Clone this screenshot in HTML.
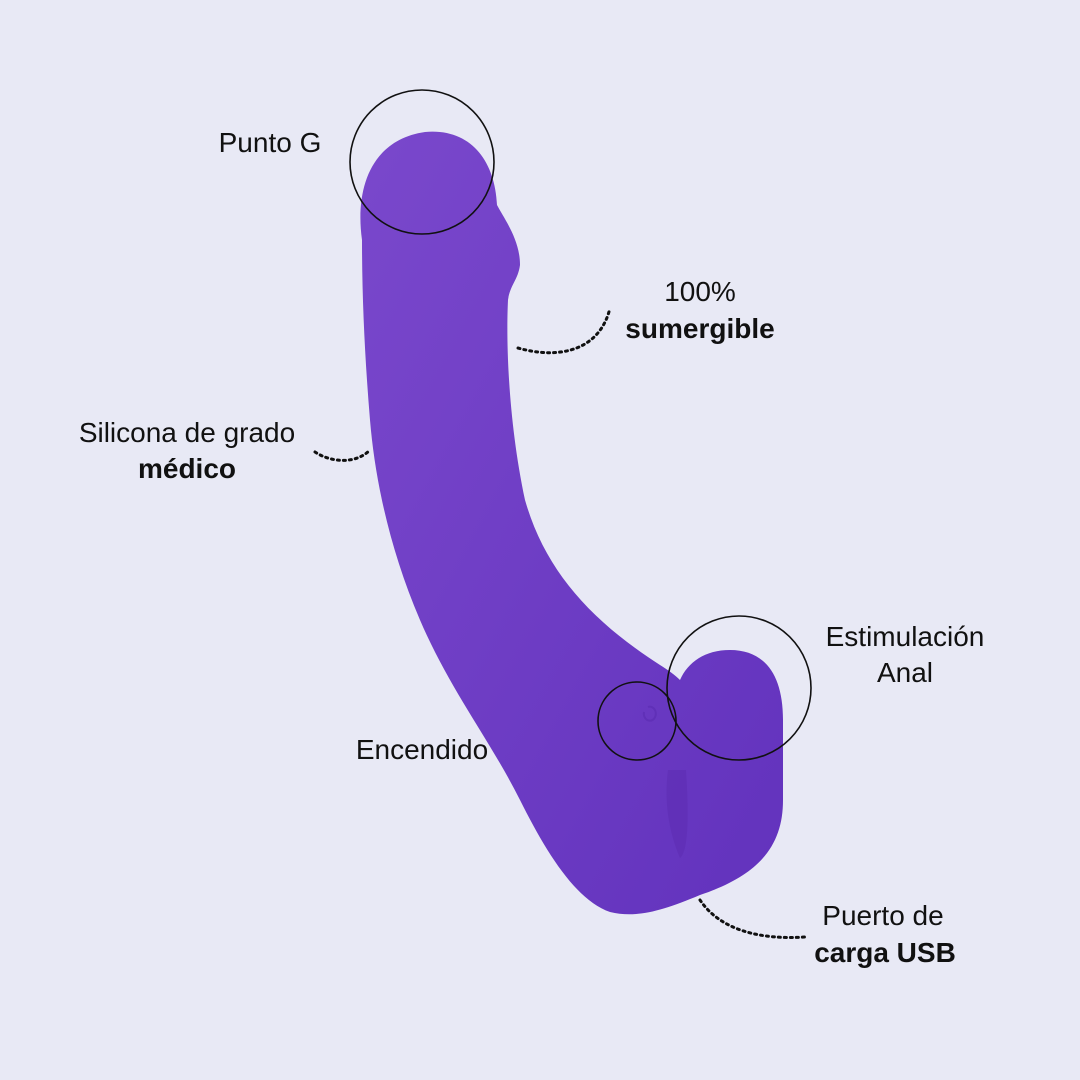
<!DOCTYPE html>
<html><head><meta charset="utf-8"><style>
html,body{margin:0;padding:0;background:#e8e9f5;}
svg{display:block}
text{font-family:"Liberation Sans",sans-serif;font-size:28px;fill:#111;}
.b{font-weight:bold}
</style></head><body>
<svg width="1080" height="1080" viewBox="0 0 1080 1080" xmlns="http://www.w3.org/2000/svg">
<defs>
<linearGradient id="g" x1="0" y1="0" x2="1" y2="1">
<stop offset="0" stop-color="#7a48cc"/><stop offset="1" stop-color="#6232bd"/>
</linearGradient>
</defs>
<rect width="1080" height="1080" fill="#e8e9f5"/>
<path fill="url(#g)" d="M362,240 C355,190 370,140 425,132 C470,128 495,160 497,205 C505,220 520,240 520,265 C518,280 510,285 508,300 C506,340 508,420 525,500 C545,570 590,620 660,665 C668,670 675,675 680,680 C688,662 705,650 730,650 C765,650 783,675 783,720 L783,800 C783,845 760,875 700,895 C660,912 635,918 610,912 C575,900 545,850 520,800 C490,740 450,690 420,620 C390,550 375,480 370,420 C365,360 362,300 362,240 Z"/>
<path fill="#5a2bb0" opacity="0.45" d="M668,770 C664,800 668,830 680,858 C690,850 688,800 686,770 Z"/>
<path fill="none" stroke="#5a2bb0" stroke-width="2" opacity="0.6" d="M644,712 a6,7 0 1,0 4,-5"/>
<circle cx="422" cy="162" r="72" fill="none" stroke="#111" stroke-width="1.6"/>
<circle cx="739" cy="688" r="72" fill="none" stroke="#111" stroke-width="1.6"/>
<circle cx="637" cy="721" r="39" fill="none" stroke="#111" stroke-width="1.6"/>
<g fill="none" stroke="#111" stroke-width="3" stroke-dasharray="2 4" stroke-linecap="round">
<path d="M518,348 C560,360 600,350 610,308"/>
<path d="M315,452 C330,462 355,465 370,450"/>
<path d="M700,900 C720,930 760,940 805,937"/>
</g>
<text x="270" y="152" text-anchor="middle">Punto G</text>
<text x="700" y="301" text-anchor="middle">100%</text>
<text x="700" y="338" text-anchor="middle" class="b">sumergible</text>
<text x="187" y="442" text-anchor="middle">Silicona de grado</text>
<text x="187" y="478" text-anchor="middle" class="b">médico</text>
<text x="905" y="646" text-anchor="middle">Estimulación</text>
<text x="905" y="682" text-anchor="middle">Anal</text>
<text x="422" y="759" text-anchor="middle">Encendido</text>
<text x="883" y="925" text-anchor="middle">Puerto de</text>
<text x="885" y="962" text-anchor="middle" class="b">carga USB</text>
</svg>
</body></html>
